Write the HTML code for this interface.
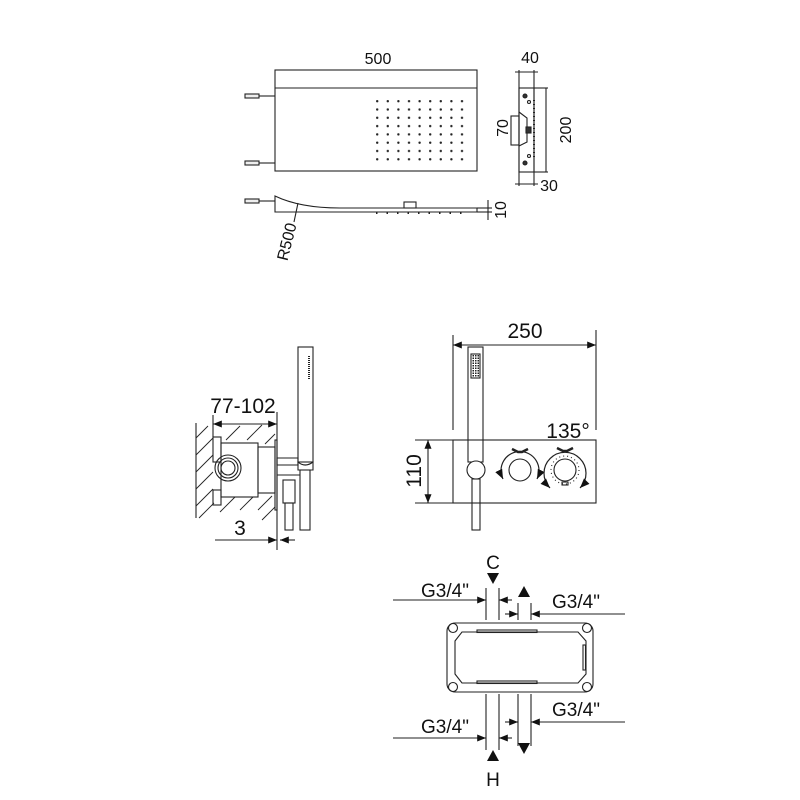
<!DOCTYPE html>
<html><head><meta charset="utf-8"><style>
html,body{margin:0;padding:0;background:#fff;}
svg{display:block;}
text{font-family:"Liberation Sans","DejaVu Sans",sans-serif;fill:#111;}
</style></head><body>
<svg width="800" height="800" viewBox="0 0 800 800" xmlns="http://www.w3.org/2000/svg">
<defs>
<pattern id="dots" x="376" y="100" width="10.6" height="8.3" patternUnits="userSpaceOnUse">
<circle cx="1.2" cy="1.2" r="1.2" fill="#222"/>
</pattern>
<pattern id="sq" x="0" y="0" width="2.5" height="2.5" patternUnits="userSpaceOnUse">
<rect width="1.5" height="1.5" fill="#222"/>
</pattern>
<marker id="ar" viewBox="0 0 10 10" refX="10" refY="5" markerWidth="8" markerHeight="8" orient="auto-start-reverse"><path d="M0,1 L10,5 L0,9z" fill="#111"/></marker>
</defs>
<g fill="none" stroke="#222" stroke-width="1.1">
<!-- TOP VIEW -->
<rect x="275" y="70" width="202" height="101"/>
<line x1="275" y1="88" x2="477" y2="88"/>
<rect x="376" y="100" width="88" height="62" fill="url(#dots)" stroke="none"/>
<rect x="245" y="94" width="14" height="4" fill="#eee"/><line x1="259" y1="96" x2="275" y2="96"/>
<rect x="245" y="161" width="14" height="4" fill="#eee"/><line x1="259" y1="163" x2="275" y2="163"/>
<!-- side view right -->
<rect x="519" y="88" width="15" height="84"/>
<line x1="519" y1="70" x2="519" y2="186"/><line x1="534" y1="70" x2="534" y2="186"/>
<line x1="515" y1="72" x2="538" y2="72"/><line x1="515" y1="184" x2="538" y2="184"/>
<line x1="534" y1="88" x2="548" y2="88"/><line x1="534" y1="172" x2="548" y2="172"/>
<line x1="546" y1="88" x2="546" y2="172"/>
<rect x="511" y="116" width="8" height="29"/>
<path d="M519,112 L527,118 L527,142 L519,146"/>
<rect x="526" y="127" width="5" height="6" fill="#333"/>
<circle cx="525" cy="96" r="2" fill="#333"/><circle cx="529" cy="102" r="1.5"/>
<circle cx="525" cy="163" r="2" fill="#333"/><circle cx="529" cy="156" r="1.5"/>
<line x1="534" y1="100" x2="534" y2="160" stroke-dasharray="1 3" stroke-width="2"/>
<!-- bottom side -->
<rect x="245" y="199" width="14" height="4" fill="#eee"/><line x1="259" y1="201" x2="275" y2="201"/>
<path d="M275,196 Q300,208 340,208 L477,208 L477,212 L275,212 Z"/>
<rect x="404" y="202" width="12" height="6"/>
<line x1="376" y1="213" x2="464" y2="213" stroke-dasharray="1.5 9" stroke-width="2"/>
<line x1="477" y1="208" x2="492" y2="208"/><line x1="477" y1="212" x2="492" y2="212"/>
<line x1="488" y1="200" x2="488" y2="220"/>
<line x1="298" y1="203" x2="294" y2="222"/>

<!-- MIDDLE LEFT -->
<line x1="196" y1="423" x2="196" y2="518"/>
<g stroke-width="0.9">
<line x1="196" y1="438" x2="208" y2="426"/><line x1="196" y1="455" x2="213" y2="438"/>
<line x1="196" y1="472" x2="213" y2="455"/><line x1="196" y1="489" x2="213" y2="472"/>
<line x1="196" y1="506" x2="213" y2="489"/><line x1="199" y1="518" x2="214" y2="503"/>
<line x1="226" y1="440" x2="240" y2="426"/><line x1="247" y1="440" x2="262" y2="425"/>
<line x1="265" y1="444" x2="275" y2="434"/>
<line x1="220" y1="512" x2="235" y2="497"/><line x1="240" y1="510" x2="253" y2="497"/>
<line x1="258" y1="510" x2="272" y2="496"/><line x1="262" y1="520" x2="275" y2="507"/>
</g>
<rect x="213" y="437" width="8" height="25"/><rect x="213" y="490" width="8" height="15"/>
<rect x="221" y="443" width="37" height="54"/>
<circle cx="228" cy="468" r="13"/><circle cx="228" cy="468" r="10"/><circle cx="228" cy="468" r="7"/>
<rect x="258" y="447" width="17" height="46"/>
<rect x="275" y="440" width="2" height="70"/>
<line x1="277" y1="412" x2="277" y2="550"/>
<rect x="298" y="347" width="15" height="115"/>
<line x1="309" y1="356" x2="309" y2="380" stroke-width="2" stroke-dasharray="1 1"/>
<path d="M277,458 L298,458 L298,465 L277,465 Z"/>
<path d="M298,462 Q305,468 313,462 L313,470 L298,470 Z"/>
<rect x="283" y="480" width="12" height="23"/><rect x="285" y="503" width="8" height="27"/>
<rect x="300" y="470" width="10" height="60"/>
<line x1="277" y1="475" x2="300" y2="475"/>
<line x1="213" y1="415" x2="213" y2="437"/>
<line x1="213" y1="424" x2="277" y2="424" marker-start="url(#ar)" marker-end="url(#ar)"/>
<line x1="215" y1="540" x2="277" y2="540" marker-end="url(#ar)"/>
<line x1="295" y1="540" x2="280" y2="540" marker-end="url(#ar)"/>

<!-- MIDDLE RIGHT -->
<line x1="453" y1="335" x2="453" y2="430"/><line x1="596" y1="330" x2="596" y2="430"/>
<line x1="453" y1="345" x2="596" y2="345" marker-start="url(#ar)" marker-end="url(#ar)"/>
<rect x="453" y="440" width="143" height="63"/>
<line x1="415" y1="440" x2="453" y2="440"/><line x1="415" y1="503" x2="453" y2="503"/>
<line x1="428" y1="440" x2="428" y2="503" marker-start="url(#ar)" marker-end="url(#ar)"/>
<rect x="468" y="347" width="15" height="115"/>
<rect x="471" y="354" width="9" height="24" fill="url(#sq)"/>
<circle cx="476" cy="470" r="9" fill="#fff"/>
<rect x="472" y="479" width="8" height="51"/>
<circle cx="520" cy="470" r="11"/>
<path d="M503,479 A19,19 0 1,1 537,479" stroke-width="1.2" marker-start="url(#ar)" marker-end="url(#ar)"/>
<path d="M512,449 L518,452 L522,452 L528,449" stroke-width="2.5"/>
<circle cx="565" cy="470" r="11"/><circle cx="565" cy="470" r="14" stroke-dasharray="1 3"/>
<path d="M550,488 A21,21 0 1,1 580,488" stroke-width="1.2" marker-start="url(#ar)" marker-end="url(#ar)"/>
<path d="M557,448 L563,451 L567,451 L573,448" stroke-width="2.5"/>
<rect x="562" y="482" width="6" height="3"/>

<!-- BOTTOM -->
<rect x="447" y="623" width="146" height="69" rx="8"/>
<path d="M462,632 L578,632 L586,641 L586,674 L578,683 L462,683 L455,674 L455,641 Z"/>
<circle cx="453" cy="628" r="4.5"/><circle cx="587" cy="628" r="4.5"/>
<circle cx="453" cy="687" r="4.5"/><circle cx="587" cy="687" r="4.5"/>
<rect x="477" y="630" width="60" height="2.5"/><rect x="477" y="681" width="60" height="2.5"/>
<rect x="583" y="645" width="2.5" height="25"/>
<line x1="486" y1="588" x2="486" y2="620"/><line x1="499" y1="588" x2="499" y2="620"/>
<line x1="518" y1="603" x2="518" y2="620"/><line x1="531" y1="603" x2="531" y2="620"/>
<line x1="486" y1="694" x2="486" y2="750"/><line x1="499" y1="694" x2="499" y2="750"/>
<line x1="518" y1="694" x2="518" y2="746"/><line x1="531" y1="694" x2="531" y2="746"/>
<line x1="393" y1="600" x2="486" y2="600" marker-end="url(#ar)"/>
<line x1="512" y1="600" x2="499" y2="600" marker-end="url(#ar)"/>
<line x1="625" y1="614" x2="531" y2="614" marker-end="url(#ar)"/>
<line x1="505" y1="614" x2="518" y2="614" marker-end="url(#ar)"/>
<line x1="625" y1="722" x2="531" y2="722" marker-end="url(#ar)"/>
<line x1="505" y1="722" x2="518" y2="722" marker-end="url(#ar)"/>
<line x1="393" y1="738" x2="486" y2="738" marker-end="url(#ar)"/>
<line x1="512" y1="738" x2="499" y2="738" marker-end="url(#ar)"/>
</g>
<g fill="#111">
<path d="M487,573 L499,573 L493,584 Z"/>
<path d="M518,597 L530,597 L524,586 Z"/>
<path d="M518,743 L530,743 L524,754 Z"/>
<path d="M487,761 L499,761 L493,750 Z"/>
</g>
<g font-size="16">
<text x="378" y="64" text-anchor="middle">500</text>
<text x="530" y="63" text-anchor="middle">40</text>
<text x="549" y="191" text-anchor="middle">30</text>
<text transform="translate(571,130) rotate(-90)" text-anchor="middle">200</text>
<text transform="translate(508,128) rotate(-90)" text-anchor="middle">70</text>
<text transform="translate(506,210) rotate(-90)" text-anchor="middle">10</text>
<text transform="translate(292,243) rotate(-76)" text-anchor="middle">R500</text>
</g>
<g font-size="21">
<text x="243" y="413" text-anchor="middle">77-102</text>
<text x="240" y="535" text-anchor="middle">3</text>
<text x="525" y="338" text-anchor="middle">250</text>
<text x="568" y="438" text-anchor="middle">135°</text>
<text transform="translate(421,471) rotate(-90)" text-anchor="middle">110</text>
</g>
<g font-size="19">
<text x="493" y="569" text-anchor="middle">C</text>
<text x="493" y="786" text-anchor="middle">H</text>
<text x="445" y="597" text-anchor="middle">G3/4"</text>
<text x="576" y="608" text-anchor="middle">G3/4"</text>
<text x="576" y="716" text-anchor="middle">G3/4"</text>
<text x="445" y="733" text-anchor="middle">G3/4"</text>
</g>
</svg>
</body></html>
